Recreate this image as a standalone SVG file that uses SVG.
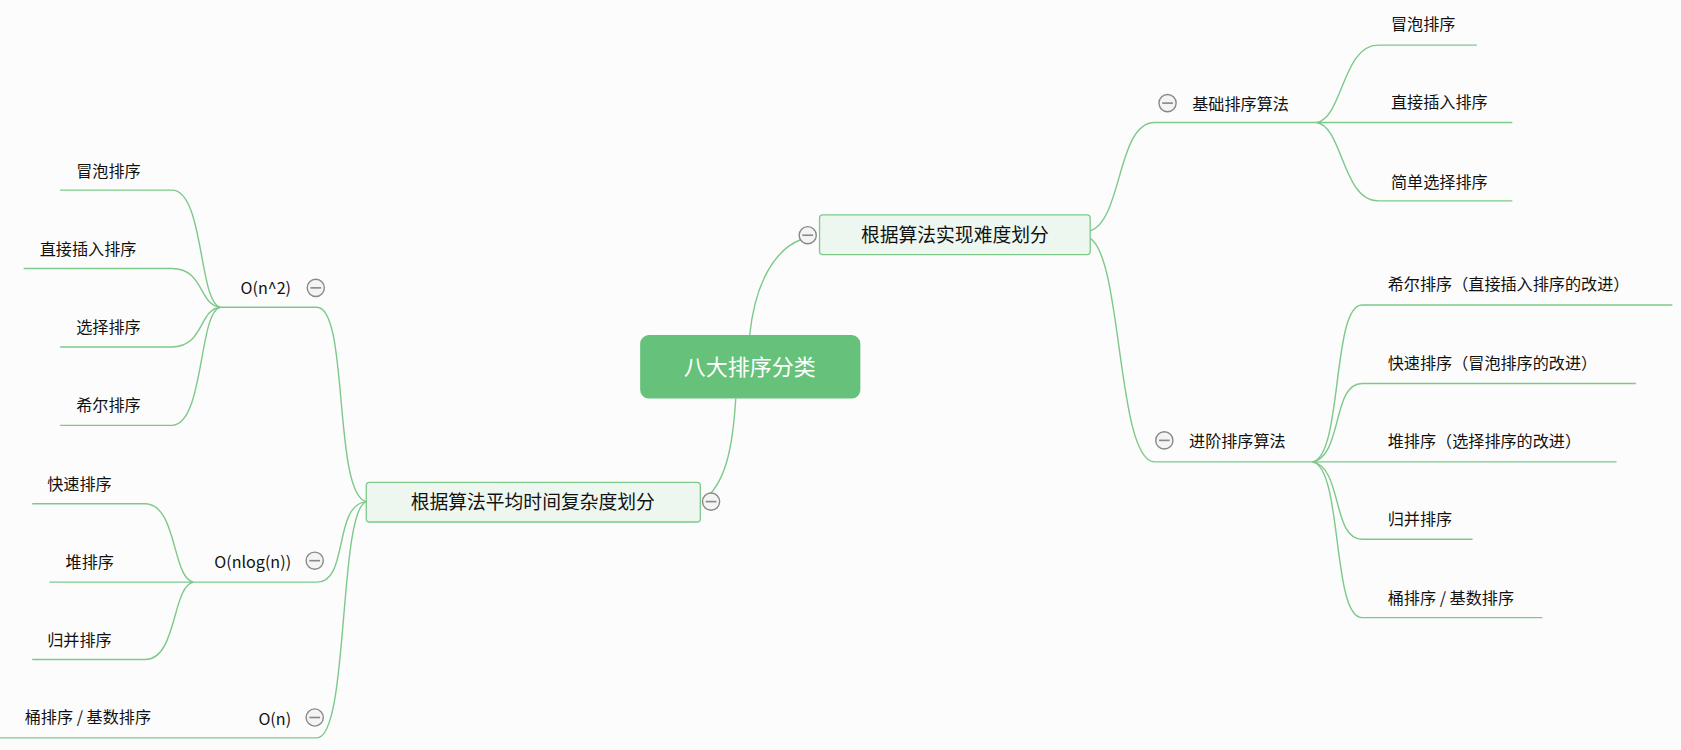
<svg xmlns="http://www.w3.org/2000/svg" width="1681" height="750" viewBox="0 0 1681 750">
<style>
.c{fill:none;stroke:#7cc98a;stroke-width:1.3}
.t{font-family:"Noto Sans CJK SC","Liberation Sans",sans-serif;font-size:15px;fill:#111}
.m{font-family:"Noto Sans CJK SC","Liberation Sans",sans-serif;font-size:17.5px;fill:#111}
.b{fill:#eef7ef;stroke:#7cc98a;stroke-width:1.2}
.k{fill:#f4f4f4;stroke:#888;stroke-width:1.3}
.kl{stroke:#888;stroke-width:1.5}
</style>
<rect width="1681" height="750" fill="#fcfcfc"/>
<g transform="scale(1.0741)">
<g id="connectors">
<path class="c" d="M698,312 C703,262 722,232 746,223"/>
<path class="c" d="M685,371 C682,420 675,450 654,467"/>
<path class="c" d="M1015,215 C1045,205 1040,114 1075,114 L1226,114"/>
<path class="c" d="M1015,222 C1045,240 1040,430 1075,430 L1222,430"/>
<path class="c" d="M1226,114 C1250,110 1250,42 1283,42 L1375,42"/>
<path class="c" d="M1226,114 L1408,114"/>
<path class="c" d="M1226,114 C1250,118 1250,187 1283,187 L1408,187"/>
<path class="c" d="M1222,430 C1250,425 1240,284 1268,284 L1557,284"/>
<path class="c" d="M1222,430 C1250,425 1240,357 1268,357 L1523,357"/>
<path class="c" d="M1222,430 L1505,430"/>
<path class="c" d="M1222,430 C1250,435 1240,502 1268,502 L1371,502"/>
<path class="c" d="M1222,430 C1250,435 1240,575 1268,575 L1436,575"/>
<path class="c" d="M341,467 C310,460 325,286 295,286 L205,286"/>
<path class="c" d="M341,467 C310,470 325,542 295,542 L180,542"/>
<path class="c" d="M341,467 C315,475 325,687 295,687 L0,687"/>
<path class="c" d="M205,286 C185,282 190,177 160,177 L56,177"/>
<path class="c" d="M205,286 C185,284 190,250 160,250 L22,250"/>
<path class="c" d="M205,286 C185,288 190,323 160,323 L56,323"/>
<path class="c" d="M205,286 C185,290 190,396 160,396 L56,396"/>
<path class="c" d="M180,542 C160,538 165,469 135,469 L30,469"/>
<path class="c" d="M180,542 L46,542"/>
<path class="c" d="M180,542 C160,546 165,614 135,614 L30,614"/>
</g>
<g id="root"><rect x="596" y="312" width="205" height="59" rx="8" fill="#66c17a"/><text x="698" y="349" text-anchor="middle" font-family="Noto Sans CJK SC, sans-serif" font-size="20.5" fill="#fff">八大排序分类</text></g>
<g id="n-diff"><rect class="b" x="763" y="200" width="252" height="37" rx="3"/><text class="m" x="889" y="225" text-anchor="middle">根据算法实现难度划分</text><circle class="k" cx="752" cy="219" r="8"/><line class="kl" x1="747" y1="219" x2="757" y2="219"/></g>
<g id="n-time"><rect class="b" x="341" y="449" width="311" height="37" rx="3"/><text class="m" x="496" y="474" text-anchor="middle">根据算法平均时间复杂度划分</text><circle class="k" cx="662" cy="467" r="8"/><line class="kl" x1="657" y1="467" x2="667" y2="467"/></g>
<g id="n-basic"><text class="t" x="1110" y="102">基础排序算法</text><circle class="k" cx="1087" cy="96" r="8"/><line class="kl" x1="1082" y1="96" x2="1092" y2="96"/></g>
<g id="n-adv"><text class="t" x="1107" y="416">进阶排序算法</text><circle class="k" cx="1084" cy="410" r="8"/><line class="kl" x1="1079" y1="410" x2="1089" y2="410"/></g>
<g id="r1"><text class="t" x="1295" y="28">冒泡排序</text></g>
<g id="r2"><text class="t" x="1295" y="101">直接插入排序</text></g>
<g id="r3"><text class="t" x="1295" y="175">简单选择排序</text></g>
<g id="r4"><text class="t" x="1292" y="270">希尔排序（直接插入排序的改进）</text></g>
<g id="r5"><text class="t" x="1292" y="344">快速排序（冒泡排序的改进）</text></g>
<g id="r6"><text class="t" x="1292" y="416">堆排序（选择排序的改进）</text></g>
<g id="r7"><text class="t" x="1292" y="489">归并排序</text></g>
<g id="r8"><text class="t" x="1292" y="562">桶排序 / 基数排序</text></g>
<g id="n-on2"><text class="t" x="271" y="274" text-anchor="end">O(n^2)</text><circle class="k" cx="294" cy="268" r="8"/><line class="kl" x1="289" y1="268" x2="299" y2="268"/></g>
<g id="n-onlogn"><text class="t" x="271" y="529" text-anchor="end">O(nlog(n))</text><circle class="k" cx="293" cy="522" r="8"/><line class="kl" x1="288" y1="522" x2="298" y2="522"/></g>
<g id="n-on"><text class="t" x="271" y="675" text-anchor="end">O(n)</text><circle class="k" cx="293" cy="668" r="8"/><line class="kl" x1="288" y1="668" x2="298" y2="668"/></g>
<g id="l1"><text class="t" x="71" y="165">冒泡排序</text></g>
<g id="l2"><text class="t" x="37" y="237">直接插入排序</text></g>
<g id="l3"><text class="t" x="71" y="310">选择排序</text></g>
<g id="l4"><text class="t" x="71" y="383">希尔排序</text></g>
<g id="l5"><text class="t" x="44" y="456">快速排序</text></g>
<g id="l6"><text class="t" x="61" y="529">堆排序</text></g>
<g id="l7"><text class="t" x="44" y="601">归并排序</text></g>
<g id="l8"><text class="t" x="23" y="673">桶排序 / 基数排序</text></g>
</g>
</svg>
